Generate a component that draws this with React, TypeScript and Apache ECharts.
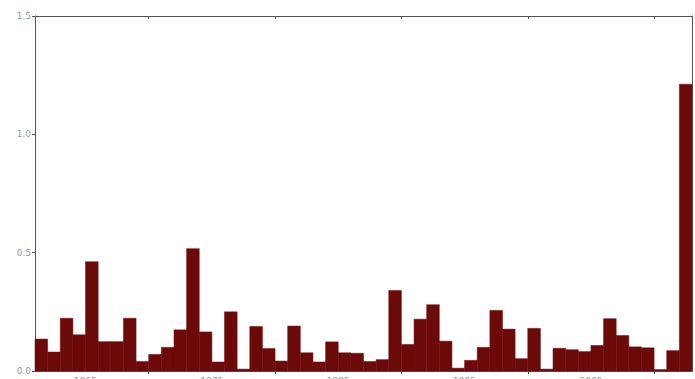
import React, { useEffect, useRef } from "react";
import * as echarts from "echarts";

const years: number[] = [
  1961, 1962, 1963, 1964, 1965, 1966, 1967, 1968, 1969, 1970,
  1971, 1972, 1973, 1974, 1975, 1976, 1977, 1978, 1979, 1980,
  1981, 1982, 1983, 1984, 1985, 1986, 1987, 1988, 1989, 1990,
  1991, 1992, 1993, 1994, 1995, 1996, 1997, 1998, 1999, 2000,
  2001, 2002, 2003, 2004, 2005, 2006, 2007, 2008, 2009, 2010,
  2011, 2012,
];
const values: number[] = [
  0.135, 0.08, 0.223, 0.153, 0.462, 0.124, 0.124, 0.223, 0.04, 0.07,
  0.1, 0.174, 0.517, 0.165, 0.038, 0.25, 0.008, 0.188, 0.095, 0.042,
  0.19, 0.077, 0.038, 0.123, 0.077, 0.075, 0.04, 0.048, 0.34, 0.112,
  0.219, 0.28, 0.126, 0.012, 0.045, 0.1, 0.256, 0.177, 0.052, 0.18,
  0.008, 0.096, 0.09, 0.082, 0.108, 0.221, 0.15, 0.102, 0.098, 0.006,
  0.086, 1.212,
];
const xTicks: number[] = [1970, 1980, 1990, 2000, 2010];
const xLabels: number[] = [1965, 1975, 1985, 1995, 2005];
const yMin = 0;
const yMax = 1.5;
const yStep = 0.5;

const BAR = "#6c0a0a";
const AXIS = "#555";
const LABEL = "#999";

export default function App() {
  const ref = useRef<HTMLDivElement>(null);
  useEffect(() => {
    if (!ref.current) return;
    const chart = echarts.init(ref.current, null, { renderer: "svg" });
    const xMin = years[0];
    const xMax = years[years.length - 1] + 1;
    chart.setOption({
      animation: false,
      backgroundColor: "#fff",
      grid: { left: 35, right: 3, top: 16, bottom: 8, containLabel: false, outerBoundsMode: "none" },
      xAxis: [
        {
          type: "value",
          min: xMin,
          max: xMax,
          position: "bottom",
          splitLine: { show: false },
          axisLine: { show: true, onZero: false, lineStyle: { color: AXIS, width: 1 } },
          axisTick: { show: true, customValues: xTicks, length: 3, inside: false, lineStyle: { color: AXIS } },
          axisLabel: {
            show: true,
            customValues: xLabels,
            formatter: (v: number) => String(v),
            color: LABEL,
            fontSize: 9,
            margin: 5,
            fontFamily: "DejaVu Sans",
          },
        },
        {
          type: "value",
          min: xMin,
          max: xMax,
          position: "top",
          splitLine: { show: false },
          axisLine: { show: true, onZero: false, lineStyle: { color: AXIS, width: 1 } },
          axisTick: { show: true, customValues: xTicks, length: 3, inside: true, lineStyle: { color: AXIS } },
          axisLabel: { show: false },
        },
      ],
      yAxis: [
        {
          type: "value",
          min: yMin,
          max: yMax,
          interval: yStep,
          position: "left",
          splitLine: { show: false },
          axisLine: { show: true, onZero: false, lineStyle: { color: AXIS, width: 1 } },
          axisTick: { show: true, length: 3, lineStyle: { color: AXIS } },
          axisLabel: {
            color: LABEL,
            fontSize: 9,
            margin: 4,
            fontFamily: "DejaVu Sans",
            formatter: (v: number) => v.toFixed(1),
          },
        },
        {
          type: "value",
          min: yMin,
          max: yMax,
          interval: yStep,
          position: "right",
          splitLine: { show: false },
          axisLine: { show: true, onZero: false, lineStyle: { color: AXIS, width: 1 } },
          axisTick: { show: false },
          axisLabel: { show: false },
        },
      ],
      series: [
        {
          type: "custom",
          xAxisIndex: 0,
          yAxisIndex: 0,
          encode: { x: 0, y: 1 },
          data: years.map((y, i) => [y, values[i]]),
          renderItem: (params: any, api: any) => {
            const yr = api.value(0);
            const v = api.value(1);
            const p0 = api.coord([yr, 0]);
            const p1 = api.coord([yr + 1, v]);
            return {
              type: "rect",
              shape: { x: p0[0], y: p1[1], width: p1[0] - p0[0], height: p0[1] - p1[1] },
              style: { fill: BAR, stroke: BAR, lineWidth: 0.5 },
            };
          },
        },
      ],
    });
    return () => chart.dispose();
  }, []);
  return (
    <div
      ref={ref}
      style={{ position: "fixed", left: 0, top: 0, width: 695, height: 379, background: "#fff" }}
    />
  );
}
